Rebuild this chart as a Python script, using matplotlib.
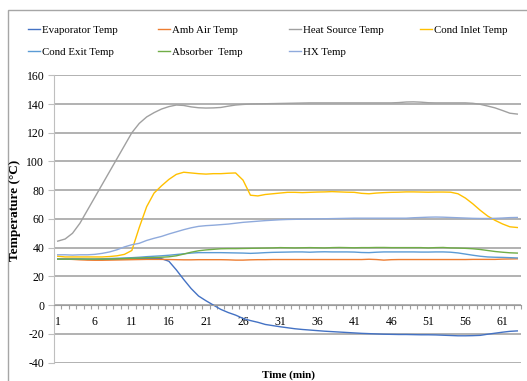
import matplotlib
matplotlib.use("Agg")
import matplotlib.pyplot as plt
from matplotlib.patches import Rectangle
import numpy as np

plt.rcParams['font.family'] = ['Liberation Serif', 'DejaVu Serif']

time_min = list(range(1, 64))

evaporator = [32, 32, 32, 32, 31.8, 31.8, 31.8, 32, 32, 32.2, 32.3, 32.4, 32.5, 32.5, 32.3,
              30.5, 24.5, 17.8, 11.5, 6.3, 3, 0, -3, -5.2, -7, -9.3, -10.8, -12, -13.5, -14.3,
              -15.1, -15.8, -16.5, -17, -17.4, -17.8, -18.2, -18.5, -18.8, -19.1, -19.4, -19.7,
              -19.9, -20.1, -20.3, -20.4, -20.5, -20.5, -20.6, -20.7, -20.7, -20.8, -21, -21.2,
              -21.4, -21.4, -21.3, -21.1, -20.3, -19.6, -18.9, -18.3, -18]
amb_air = [32, 32, 31.8, 31.5, 31.3, 31.2, 31.2, 31.3, 31.4, 31.5, 31.6, 31.7, 31.8, 31.8, 31.8,
           31.7, 31.6, 31.5, 31.5, 31.6, 31.6, 31.6, 31.6, 31.5, 31.3, 31.3, 31.5, 31.6, 31.6,
           31.7, 31.7, 31.7, 31.7, 31.7, 31.7, 31.7, 31.7, 31.7, 31.7, 31.7, 31.7, 31.7, 31.9,
           31.7, 31.3, 31.6, 31.7, 31.7, 31.7, 31.7, 31.7, 31.7, 31.7, 31.7, 31.7, 31.7, 31.8,
           31.8, 31.8, 31.8, 32, 32.1, 32.2]
heat_source = [44.5, 46, 50, 57, 66, 75, 84, 93, 102, 111, 120, 126.5, 131, 134, 136.5, 138.2,
               139.3, 139, 138, 137.4, 137.2, 137.3, 137.6, 138.5, 139.3, 139.7, 140, 140.1,
               140.2, 140.3, 140.4, 140.5, 140.6, 140.7, 140.8, 140.8, 140.8, 140.8, 140.8,
               140.8, 140.8, 140.8, 140.8, 140.8, 140.8, 140.8, 141, 141.4, 141.5, 141.3, 140.9,
               140.8, 140.8, 140.8, 140.8, 140.8, 140.5, 139.8, 138.6, 137.3, 135.5, 133.6, 133]
cond_inlet = [34, 33.5, 33.5, 33.5, 33.5, 33.5, 33.5, 33.8, 34.3, 35.3, 38, 54, 68.5, 78, 83,
              87.5, 91, 92.5, 92, 91.5, 91.2, 91.5, 91.5, 91.8, 92, 87, 76.5, 76, 77, 77.5, 78,
              78.5, 78.5, 78.3, 78.5, 78.7, 78.8, 79, 78.8, 78.6, 78.5, 77.8, 77.5, 78, 78.3,
              78.5, 78.6, 78.8, 78.8, 78.7, 78.6, 78.7, 78.7, 78.6, 77.5, 74.5, 70.5, 66, 62,
              59, 56.5, 54.5, 54]
cond_exit = [32, 32, 32, 32, 32, 32, 32.2, 32.4, 32.6, 32.8, 33, 33.3, 33.7, 34, 34.3, 34.7,
             35.2, 35.7, 36.2, 36.5, 36.5, 36.5, 36.5, 36.4, 36.3, 36.2, 36, 36.2, 36.5, 36.7,
             36.8, 36.9, 37, 37, 36.8, 37, 37.1, 37, 37, 37, 36.9, 36.6, 36.5, 36.8, 37, 37, 37,
             37, 37, 36.9, 36.9, 37, 37, 36.8, 36.3, 35.5, 34.7, 34, 33.5, 33.3, 33.2, 33, 32.8]
absorber = [32, 32, 32, 32, 32, 32, 32, 32, 32.2, 32.4, 32.6, 32.8, 33, 33.1, 33.3, 33.6, 34.3,
            35.5, 36.8, 37.8, 38.4, 38.8, 39.2, 39.3, 39.3, 39.4, 39.5, 39.6, 39.7, 39.8, 40,
            39.9, 39.8, 39.9, 40, 39.9, 39.8, 40, 40.1, 40, 39.9, 40, 40, 40.1, 40.1, 40, 40, 40,
            40, 40, 39.8, 40, 40.1, 39.8, 39.7, 39.5, 39.2, 38.7, 38, 37.3, 36.8, 36.4, 36.2]
hx = [35, 35, 34.8, 35, 35, 35.3, 36, 37, 38.5, 40.5, 42, 43, 45, 46.5, 47.8, 49.5, 51, 52.5,
      53.8, 54.8, 55.3, 55.6, 56, 56.4, 57, 57.6, 58, 58.4, 58.8, 59.1, 59.4, 59.6, 59.7, 59.8,
      59.9, 60, 60.1, 60.2, 60.3, 60.4, 60.5, 60.5, 60.5, 60.5, 60.5, 60.5, 60.5, 60.5, 60.8,
      61, 61.2, 61.3, 61.2, 61, 60.8, 60.6, 60.4, 60.3, 60.3, 60.4, 60.6, 60.9, 61]

series = [
    ("Evaporator Temp", evaporator, "#4472C4"),
    ("Amb Air Temp", amb_air, "#ED7D31"),
    ("Heat Source Temp", heat_source, "#A0A0A0"),
    ("Cond Inlet Temp", cond_inlet, "#FFC000"),
    ("Cond Exit Temp", cond_exit, "#5B9BD5"),
    ("Absorber  Temp", absorber, "#70AD47"),
    ("HX Temp", hx, "#8FAADC"),
]

y_ticks = list(range(-40, 161, 20))
x_labels = list(range(1, 63, 5))

W, H = 527, 381
fig = plt.figure(figsize=(W / 100, H / 100), dpi=100)

# chart frame
fig.patches.append(Rectangle((8 / W, -0.05), 1.2, 1 - 10 / H + 0.05, transform=fig.transFigure,
                             fill=False, edgecolor="#a6a6a6", linewidth=1.0))

ax = fig.add_axes([54 / W, 1 - 362.5 / H, (521 - 54) / W, (362.5 - 75.3) / H])

handles = []
for name, vals, col in series:
    ln, = ax.plot(time_min, vals, color=col, linewidth=1.0, label=name)
    handles.append(ln)

ax.set_xlim(0.5, 63.5)
ax.set_ylim(-40, 160)

# horizontal gridlines
for yv in y_ticks:
    ax.axhline(yv, color="#9c9c9c", linewidth=1.1, zorder=0.5)

ax.set_yticks(y_ticks)
ax.set_yticklabels([str(v) for v in y_ticks], fontsize=8.5)
ax.tick_params(axis="y", length=4, width=0.8, color="#bfbfbf", pad=3)

ax.spines["top"].set_visible(False)
ax.spines["right"].set_visible(False)
ax.spines["left"].set_color("#bfbfbf")
ax.spines["bottom"].set_position(("data", 0))
ax.spines["bottom"].set_color("#9c9c9c")

ax.set_xticks(x_labels)
ax.set_xticklabels([str(v) for v in x_labels], fontsize=8.5)
ax.set_xticks(np.arange(0.5, 64, 1), minor=True)
ax.tick_params(axis="x", which="major", length=0, pad=8)
ax.tick_params(axis="x", which="minor", length=3, width=0.8, color="#a0a0a0", direction="out")

fig.text(15 / W, 1 - 210 / H, "Temperature (°C)", rotation=90, ha="center", va="center",
         fontsize=9.5, fontweight="bold")
fig.text(288 / W, 1 - 375 / H, "Time (min)", ha="center", va="center",
         fontsize=8, fontweight="bold")

# legend in four columns
cols_x = [28, 158, 289, 420]
groups = [[0, 4], [1, 5], [2, 6], [3]]
for cx, grp in zip(cols_x, groups):
    fig.legend(handles=[handles[i] for i in grp], loc="upper left",
               bbox_to_anchor=(cx / W, 1 - 25 / H), frameon=False, fontsize=7.8,
               handlelength=1.1, handletextpad=0.15, labelspacing=1.15,
               borderpad=0, borderaxespad=0)

fig.savefig("out.png", dpi=100)
